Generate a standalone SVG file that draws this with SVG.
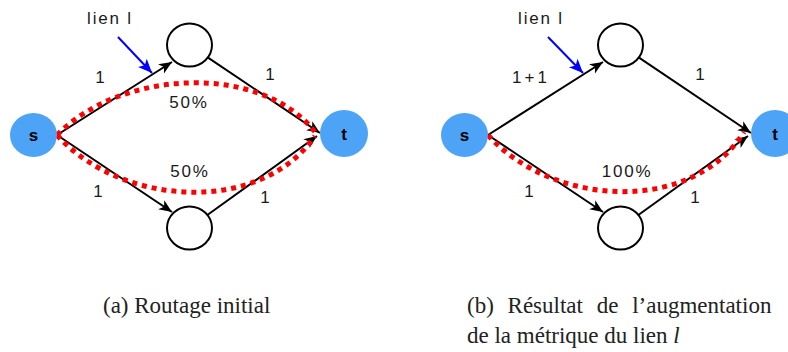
<svg xmlns="http://www.w3.org/2000/svg" width="788" height="352" viewBox="0 0 788 352">
<style>
.node{fill:#ffffff;stroke:#000000;stroke-width:2}
.term{fill:#4da3f5;stroke:none}
.edge{fill:none;stroke:#000000;stroke-width:2;marker-end:url(#ah)}
.flow{fill:none;stroke:#ff0000;stroke-width:5;stroke-dasharray:5 5}
.ptr{fill:none;stroke:#0000ff;stroke-width:2;marker-end:url(#bh)}
.lbl{font-family:"Liberation Sans",Arial,sans-serif;font-size:17px;fill:#1a1a1a;text-anchor:middle;letter-spacing:1.8px}
.tl{font-family:"Liberation Sans",Arial,sans-serif;font-size:17px;font-weight:bold;fill:#000;text-anchor:middle}
.cap{font-family:"Liberation Serif","Times New Roman",serif;font-size:23px;fill:#222}
</style>
<defs>
<marker id="ah" markerUnits="userSpaceOnUse" markerWidth="14" markerHeight="11" refX="13" refY="5.5" orient="auto" overflow="visible">
<path d="M0,0 L13,5.5 L0,11 L3.5,5.5 Z" fill="#000"/>
</marker>
<marker id="bh" markerUnits="userSpaceOnUse" markerWidth="15" markerHeight="12" refX="14" refY="6" orient="auto" overflow="visible">
<path d="M0,0 L14,6 L0,12 L3.5,6 Z" fill="#0000ff"/>
</marker>
</defs>

<g id="connectors">
<!-- left panel -->
<path class="edge" d="M57,135 L172,62"/>
<path class="edge" d="M208,57.6 L320,133"/>
<path class="edge" d="M57,135 L172,212"/>
<path class="edge" d="M207.7,214.8 L317,136"/>
<path class="flow" d="M57,135 C120,70 260,62 315,132"/>
<path class="flow" d="M57,135 C120,206 260,216 315,136"/>
<path class="ptr" d="M118,37 L152,73"/>
<!-- right panel -->
<path class="edge" d="M488,135 L603,62"/>
<path class="edge" d="M639,57.6 L751,133"/>
<path class="edge" d="M488,135 L603,212"/>
<path class="edge" d="M638.7,214.8 L748,136"/>
<path class="flow" d="M488,135 C551,206 691,216 744,132"/>
<path class="ptr" d="M548,37 L583,73"/>
</g>

<g id="node-s-a"><ellipse class="term" cx="33.5" cy="135" rx="23.5" ry="22"/><text class="tl" x="33.5" y="141">s</text></g>
<g id="node-t-a"><ellipse class="term" cx="344" cy="133.5" rx="24" ry="23.5"/><text class="tl" x="344" y="140">t</text></g>
<g id="node-top-a"><ellipse class="node" cx="189.5" cy="45" rx="22.5" ry="21.5"/></g>
<g id="node-bot-a"><ellipse class="node" cx="189.5" cy="228" rx="22.5" ry="21.5"/></g>

<g id="node-s-b"><ellipse class="term" cx="464.5" cy="135" rx="23.5" ry="22"/><text class="tl" x="464.5" y="141">s</text></g>
<g id="node-t-b"><ellipse class="term" cx="775" cy="133.5" rx="24" ry="23.5"/><text class="tl" x="775" y="140">t</text></g>
<g id="node-top-b"><ellipse class="node" cx="620.5" cy="45" rx="22.5" ry="21.5"/></g>
<g id="node-bot-b"><ellipse class="node" cx="620.5" cy="228" rx="22.5" ry="21.5"/></g>

<g id="labels">
<text class="lbl" x="110" y="24">lien l</text>
<text class="lbl" x="101" y="83">1</text>
<text class="lbl" x="271" y="80">1</text>
<text class="lbl" x="189" y="108">50%</text>
<text class="lbl" x="190" y="177">50%</text>
<text class="lbl" x="99" y="197">1</text>
<text class="lbl" x="266" y="203">1</text>

<text class="lbl" x="541" y="24">lien l</text>
<text class="lbl" x="531" y="83" style="letter-spacing:3px">1+1</text>
<text class="lbl" x="701" y="80">1</text>
<text class="lbl" x="627" y="177">100%</text>
<text class="lbl" x="530" y="197">1</text>
<text class="lbl" x="696" y="203">1</text>
</g>

<g id="captions">
<text class="cap" x="103" y="313">(a) Routage initial</text>
<text class="cap" x="467" y="313" word-spacing="8">(b) Résultat de l’augmentation</text>
<text class="cap" x="467" y="343">de la métrique du lien <tspan font-style="italic">l</tspan></text>
</g>
</svg>
